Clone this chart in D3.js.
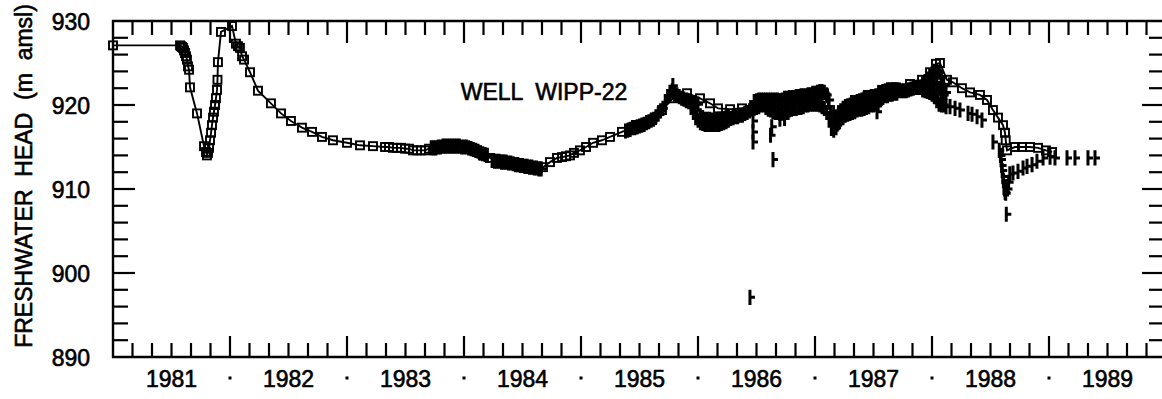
<!DOCTYPE html>
<html><head><meta charset="utf-8">
<script src="https://cdn.jsdelivr.net/npm/d3@7"></script>
<style>html,body{margin:0;padding:0;background:#fff;}svg{display:block;}</style>
</head><body>
<svg id="chart" width="1162" height="399"></svg>
<script>
const chartTitle = "WELL  WIPP-22";
const yAxisTitle = "FRESHWATER  HEAD  (m  amsl)";
const yearLabels = ["1981","1982","1983","1984","1985","1986","1987","1988","1989"];
const headTickLabels = [890, 900, 910, 920, 930];

// series drawn with squares and a joining line: [decimal year, head m amsl]
const squareSeries = [
[1981.000,927.1],[1981.573,927.1],[1981.581,927.0],[1981.590,926.9],[1981.598,926.8],[1981.607,926.5],
[1981.615,926.2],[1981.624,925.8],[1981.632,925.4],[1981.641,924.6],[1981.650,924.2],[1981.658,922.1],
[1981.718,919.0],[1981.778,915.1],[1981.795,914.4],[1981.803,914.0],[1981.812,914.3],[1981.821,914.9],
[1981.829,915.8],[1981.838,916.7],[1981.846,917.6],[1981.855,918.5],[1981.863,919.2],[1981.872,920.0],
[1981.880,920.8],[1981.889,921.8],[1981.893,923.0],[1981.897,925.1],[1981.923,928.7],[1982.017,929.4],
[1982.051,927.3],[1982.068,927.0],[1982.085,926.8],[1982.103,925.8],[1982.120,925.4],[1982.171,923.9],
[1982.239,921.7],[1982.350,920.2],[1982.436,919.0],[1982.521,918.1],[1982.615,917.3],[1982.701,916.8],
[1982.786,916.2],[1982.880,915.8],[1983.000,915.5],[1983.111,915.2],[1983.222,915.1],[1983.325,915.0],
[1983.359,915.0],[1983.393,914.9],[1983.427,914.9],[1983.462,914.9],[1983.496,914.8],[1983.530,914.8],
[1983.564,914.6],[1983.598,914.6],[1983.632,914.6],[1983.667,914.6],[1983.701,914.8],[1983.769,915.1],
[1983.855,915.2],[1983.940,915.2],[1984.026,915.0],[1984.111,914.6],[1984.162,914.0],[1984.222,913.7],
[1984.308,913.5],[1984.393,913.2],[1984.479,913.0],[1984.564,912.7],[1984.632,912.5],[1984.675,912.6],
[1984.735,913.2],[1984.795,913.7],[1984.838,913.8],[1984.872,913.9],[1984.906,914.0],[1984.940,914.3],
[1984.991,914.6],[1985.043,915.0],[1985.103,915.5],[1985.179,915.8],[1985.248,916.2],[1985.350,916.8],
[1985.436,917.3],[1985.504,917.5],[1985.607,918.2],[1985.692,919.4],[1985.786,920.8],[1985.906,921.4],
[1986.017,920.8],[1986.103,920.2],[1986.171,919.6],[1986.274,919.5],[1986.376,919.6],[1986.479,920.0],
[1986.581,920.6],[1986.675,920.8],[1986.786,921.0],[1986.889,921.2],[1986.991,921.4],[1987.077,921.4],
[1987.128,919.4],[1987.171,918.5],[1987.231,919.4],[1987.342,920.6],[1987.453,921.2],[1987.573,921.8],
[1987.692,922.1],[1987.812,922.5],[1987.915,923.0],[1987.983,923.9],[1988.034,924.9],[1988.068,925.0],
[1988.128,923.0],[1988.179,922.7],[1988.256,922.0],[1988.325,921.5],[1988.410,921.2],[1988.470,920.6],
[1988.521,919.4],[1988.564,918.5],[1988.607,917.6],[1988.624,916.7],[1988.630,915.8],[1988.641,914.6],
[1988.709,915.0],[1988.769,915.0],[1988.838,915.0],[1988.906,914.9],[1988.974,914.6],[1989.026,914.4]
];

// series drawn with bar-and-tick markers: [decimal year, head m amsl]
const barSeries = [
[1983.72,914.9],[1983.74,914.9],[1983.76,914.9],[1983.78,915.0],[1983.80,915.0],[1983.82,915.1],[1983.84,915.1],
[1983.86,915.1],[1983.88,915.1],[1983.90,915.1],[1983.92,915.1],[1983.94,915.1],[1983.96,915.1],[1983.98,915.0],
[1984.00,915.0],[1984.02,915.0],[1984.04,914.9],[1984.06,914.8],[1984.08,914.7],[1984.10,914.6],[1984.12,914.5],
[1984.14,914.3],[1984.16,914.2],[1984.18,914.1],[1984.20,914.0],
[1984.24,913.4],[1984.26,913.3],[1984.28,913.3],[1984.30,913.3],[1984.32,913.2],[1984.34,913.2],[1984.36,913.2],
[1984.38,913.1],[1984.40,913.1],[1984.42,913.0],[1984.44,912.9],[1984.46,912.9],[1984.48,912.8],[1984.50,912.8],
[1984.52,912.7],[1984.54,912.7],[1984.56,912.6],[1984.58,912.6],[1984.60,912.5],[1984.62,912.5],[1984.64,912.4],
[1984.66,912.4],
[1985.38,916.9],[1985.40,917.0],[1985.42,917.1],[1985.44,917.3],[1985.46,917.3],[1985.48,917.4],[1985.50,917.5],
[1985.52,917.6],[1985.54,917.7],[1985.56,917.9],[1985.58,918.0],[1985.60,918.2],[1985.62,918.3],[1985.64,918.6],
[1985.66,918.9],[1985.68,919.3],[1985.70,919.6],[1985.72,920.4],[1985.74,921.0],[1985.76,921.5],
[1985.78,921.7],[1985.785,922.3],[1985.80,921.3],[1985.82,921.2],[1985.84,921.0],[1985.86,920.8],[1985.88,920.7],
[1985.90,920.5],[1985.92,920.4],
[1985.94,920.4],[1985.94,919.7],[1985.96,920.3],[1985.96,919.1],[1985.98,920.2],[1985.98,918.5],
[1986.00,920.1],[1986.00,918.2],[1986.02,918.7],[1986.02,917.9],[1986.04,918.5],[1986.04,917.8],
[1986.06,918.3],[1986.06,917.7],[1986.08,918.3],[1986.08,917.7],[1986.10,918.3],[1986.10,917.7],
[1986.12,918.2],[1986.12,917.7],[1986.14,918.2],[1986.14,917.7],[1986.16,918.2],[1986.16,917.7],
[1986.18,918.3],[1986.18,917.7],[1986.20,918.3],[1986.20,917.8],[1986.22,918.4],[1986.22,917.9],
[1986.24,918.5],[1986.24,918.0],[1986.26,918.5],[1986.26,918.2],
[1986.28,918.4],[1986.30,918.5],[1986.32,918.6],[1986.34,918.6],[1986.36,918.8],[1986.38,918.8],[1986.40,919.0],
[1986.42,919.1],[1986.44,919.3],[1986.46,919.5],
[1986.48,920.4],[1986.48,919.6],[1986.50,920.5],[1986.50,919.7],[1986.52,920.6],[1986.52,919.8],
[1986.54,920.6],[1986.54,920.0],[1986.56,920.6],[1986.56,920.0],[1986.58,920.6],[1986.58,919.7],
[1986.60,920.6],[1986.60,919.5],[1986.62,920.6],[1986.62,919.4],[1986.64,920.6],[1986.64,919.2],
[1986.66,920.6],[1986.66,919.1],[1986.68,920.6],[1986.68,919.1],[1986.70,920.5],[1986.70,919.0],
[1986.72,920.6],[1986.72,919.1],[1986.74,920.8],[1986.74,919.2],[1986.76,920.8],[1986.76,919.4],
[1986.78,920.9],[1986.78,919.4],[1986.80,920.9],[1986.80,919.5],[1986.82,920.9],[1986.82,919.6],
[1986.84,921.0],[1986.84,919.6],[1986.86,921.0],[1986.86,919.7],[1986.88,921.1],[1986.88,919.7],
[1986.90,921.1],[1986.90,919.8],[1986.92,921.1],[1986.92,920.0],[1986.94,921.2],[1986.94,920.0],
[1986.96,921.2],[1986.96,920.1],[1986.98,921.4],[1986.98,920.1],[1987.00,921.4],[1987.00,920.1],
[1987.02,921.5],[1987.02,920.1],[1987.04,921.6],[1987.04,920.0],[1987.06,921.6],[1987.06,919.8],
[1987.08,921.5],[1987.08,919.6],[1987.10,921.2],[1987.10,919.1],[1987.12,920.6],[1987.12,918.2],
[1987.14,919.1],[1987.14,917.2],[1987.16,918.5],[1987.16,917.0],[1987.18,918.6],[1987.18,917.3],
[1987.20,919.0],[1987.20,917.9],[1987.22,919.3],[1987.22,918.3],[1987.24,919.6],[1987.24,918.5],
[1987.26,919.8],[1987.26,918.8],[1987.28,919.9],[1987.28,918.9],[1987.30,920.0],[1987.30,919.0],
[1987.32,920.1],[1987.32,919.1],[1987.34,920.2],[1987.34,919.2],[1987.36,920.4],[1987.36,919.4],
[1987.38,920.5],[1987.38,919.5],[1987.40,920.6],[1987.40,919.5],[1987.42,920.8],[1987.42,919.6],
[1987.44,920.9],[1987.44,919.7],[1987.46,920.9],[1987.46,919.8],[1987.48,921.0],[1987.48,920.0],
[1987.50,921.0],[1987.50,920.0],[1987.52,921.1],[1987.52,920.1],[1987.54,921.1],[1987.54,920.1],
[1987.56,921.4],[1987.56,920.6],[1987.58,921.6],[1987.58,920.9],[1987.60,921.7],[1987.60,921.1],
[1987.62,921.8],[1987.62,921.1],[1987.64,921.8],[1987.64,921.3],[1987.66,921.8],[1987.66,921.3],
[1987.68,921.8],[1987.68,921.4],[1987.70,921.8],[1987.70,921.4],
[1987.72,921.7],[1987.74,921.7],[1987.76,921.7],[1987.78,921.7],[1987.80,921.8],[1987.82,921.9],[1987.84,922.0],
[1987.86,922.1],[1987.88,922.1],[1987.90,922.1],
[1987.92,922.6],[1987.92,921.8],[1987.94,922.8],[1987.94,921.7],[1987.96,923.1],[1987.96,921.6],
[1987.98,923.5],[1987.98,922.5],[1987.98,921.5],[1988.00,923.7],[1988.00,922.5],[1988.00,921.3],
[1988.02,924.0],[1988.02,922.5],[1988.02,921.0],[1988.04,924.1],[1988.04,922.3],[1988.04,920.5],
[1988.06,923.9],[1988.06,922.0],[1988.06,920.1],[1988.08,923.3],[1988.08,921.7],[1988.08,920.0],
[1988.10,922.3],[1988.10,921.2],[1988.10,920.0],[1988.12,921.5],[1988.12,919.8],
[1988.154,919.8],[1988.197,919.6],[1988.239,919.4],[1988.308,919.0],[1988.342,918.9],[1988.385,918.6],
[1988.427,918.2],[1988.521,915.6],
[1988.575,914.6],[1988.585,914.0],[1988.590,913.5],[1988.595,912.8],[1988.600,912.2],[1988.605,911.5],
[1988.610,911.0],[1988.615,910.2],[1988.620,910.0],[1988.625,909.6],[1988.630,909.5],[1988.635,907.0],
[1988.645,910.0],[1988.655,910.8],[1988.665,911.8],
[1988.692,911.9],[1988.735,912.1],[1988.778,912.5],[1988.812,912.7],[1988.855,912.9],[1988.897,913.3],
[1988.949,913.7],[1989.009,913.8],[1989.051,913.7],[1989.154,913.7],[1989.222,913.7],[1989.333,913.7],
[1989.393,913.7],
[1986.444,897.1],[1986.641,913.5],[1986.470,918.1],[1986.470,916.8],[1986.470,915.6],[1986.630,917.4],
[1986.620,916.4],[1986.700,918.3],[1986.740,918.4],[1987.530,919.2]
];

const svg = d3.select("#chart");
const x = d3.scaleLinear().domain([1981, 1990]).range([113, 1166]);
const y = d3.scaleLinear().domain([890, 930]).range([357, 21]);
const pLeft = 113, pRight = 1164, pTop = 21, pBottom = 357;
const font = "'Liberation Sans', Arial, Helvetica, sans-serif";

const g = svg.append("g").attr("stroke", "#000").attr("fill", "none");
g.append("path").attr("class", "frame").attr("stroke-width", 2.4)
  .attr("d", `M${pLeft},${pTop}H${pRight}V${pBottom}H${pLeft}Z`);

const xTicks = d3.range(1, 54).map(k => ({t: 1981 + k / 6, major: k % 6 === 0}));
g.selectAll(".xb").data(xTicks).join("line").attr("class", "xb")
  .attr("stroke-width", 2.2)
  .attr("x1", d => x(d.t)).attr("x2", d => x(d.t))
  .attr("y1", pBottom).attr("y2", d => pBottom - (d.major ? 21 : 14));
g.selectAll(".xt").data(xTicks).join("line").attr("class", "xt")
  .attr("stroke-width", 2.2)
  .attr("x1", d => x(d.t)).attr("x2", d => x(d.t))
  .attr("y1", pTop).attr("y2", d => pTop + (d.major ? 22 : 14));

const yTicks = d3.range(1, 20).map(k => ({v: 890 + 2 * k, major: k % 5 === 0}));
g.selectAll(".yl").data(yTicks).join("line").attr("class", "yl")
  .attr("stroke-width", 2.2)
  .attr("y1", d => y(d.v)).attr("y2", d => y(d.v))
  .attr("x1", pLeft).attr("x2", d => pLeft + (d.major ? 22 : 15));
g.selectAll(".yr").data(yTicks).join("line").attr("class", "yr")
  .attr("stroke-width", 2.2)
  .attr("y1", d => y(d.v)).attr("y2", d => y(d.v))
  .attr("x1", pRight).attr("x2", d => pRight - (d.major ? 22 : 15));

const txt = sel => sel.attr("font-family", font).attr("font-size", 23)
  .attr("fill", "#000").attr("stroke", "#000").attr("stroke-width", 0.6);
svg.selectAll(".ylab").data(headTickLabels).join("text").attr("class", "ylab")
  .attr("x", 90).attr("y", d => y(d) + 8.5)
  .attr("text-anchor", "end").call(txt)
  .text(d => d);
svg.selectAll(".xlab").data(yearLabels).join("text").attr("class", "xlab")
  .attr("x", d => x(+d + 0.5)).attr("y", 387)
  .attr("text-anchor", "middle").call(txt)
  .text(d => d);
svg.selectAll(".ydot").data(yearLabels.slice(1)).join("rect").attr("class", "ydot")
  .attr("x", d => x(+d) - 1.5).attr("y", 376.5).attr("width", 3).attr("height", 3).attr("fill", "#000");
svg.append("text")
  .attr("transform", "translate(32,176) rotate(-90)")
  .attr("text-anchor", "middle").call(txt)
  .style("white-space", "pre").text(yAxisTitle);
svg.append("text")
  .attr("x", 544).attr("y", 100).attr("text-anchor", "middle")
  .call(txt).style("white-space", "pre")
  .text(chartTitle);

const line = d3.line().x(d => x(d[0])).y(d => y(d[1]));
g.append("path").attr("class", "sline").datum(squareSeries).attr("stroke-width", 1.9).attr("d", line);
g.selectAll(".sq").data(squareSeries).join("rect").attr("class", "sq")
  .attr("stroke-width", 1.9)
  .attr("x", d => x(d[0]) - 4).attr("y", d => y(d[1]) - 4)
  .attr("width", 8).attr("height", 8);

const half = y(890) - y(890.9);
g.selectAll(".bar").data(barSeries).join("path").attr("class", "bar")
  .attr("stroke-width", 3)
  .attr("d", d => {
    const px = x(d[0]), py = y(d[1]);
    return `M${px},${py - half}V${py + half}M${px},${py}h5`;
  });
</script>
</body></html>
